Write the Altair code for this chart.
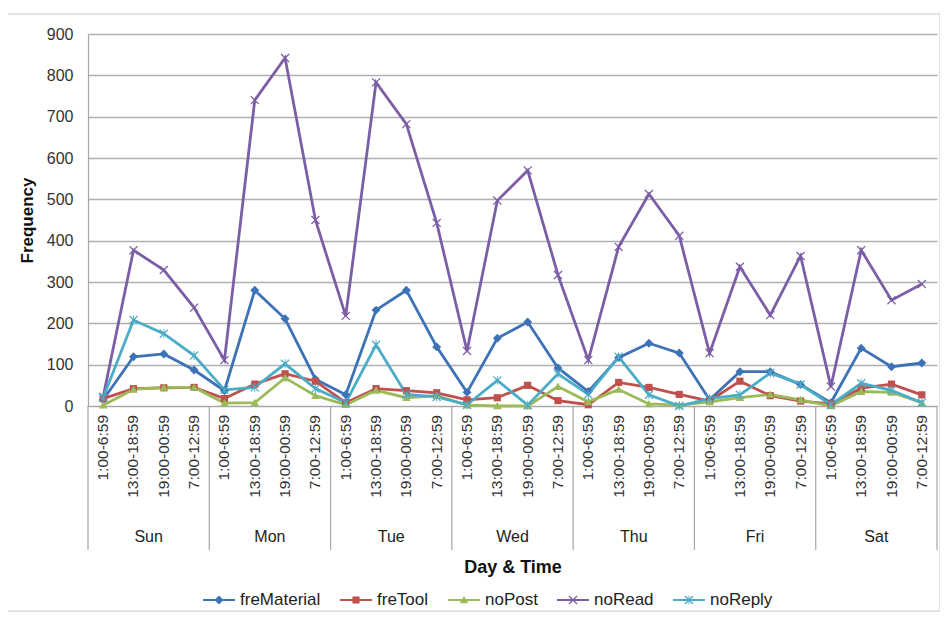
import json
import altair as alt
import pandas as pd

# ---------------- data ----------------
days = ["Sun", "Mon", "Tue", "Wed", "Thu", "Fri", "Sat"]
slots = ["1:00-6:59", "13:00-18:59", "19:00-00:59", "7:00-12:59"]
series = ["freMaterial", "freTool", "noPost", "noRead", "noReply"]

freMaterial = [15, 119, 126, 87, 37, 280, 211, 65, 27, 232, 280, 143, 33, 164, 203, 92,
               35, 117, 152, 128, 15, 83, 83, 52, 8, 140, 95, 104]
freTool = [18, 42, 44, 45, 18, 53, 78, 60, 8, 42, 37, 32, 15, 20, 50, 13,
           3, 57, 45, 28, 12, 60, 25, 12, 5, 43, 53, 27]
noPost = [2, 40, 45, 45, 7, 8, 68, 25, 3, 38, 20, 25, 2, 0, 0, 47,
          10, 40, 5, 2, 10, 20, 28, 15, 0, 35, 33, 8]
noRead = [22, 377, 329, 238, 111, 740, 842, 450, 218, 783, 682, 443, 133, 497, 570, 317,
          111, 385, 513, 412, 128, 337, 220, 363, 47, 377, 256, 295]
noReply = [20, 208, 175, 122, 39, 45, 102, 42, 8, 148, 28, 22, 3, 62, 2, 78,
           28, 119, 27, 0, 18, 27, 80, 52, 3, 55, 38, 8]

y_ticks = [0, 100, 200, 300, 400, 500, 600, 700, 800, 900]
colors = ["#3d72b6", "#c0504d", "#9bbb59", "#7b5ea6", "#4bacc6"]

values_by_series = [freMaterial, freTool, noPost, noRead, noReply]
rows = []
for name, vals in zip(series, values_by_series):
    for i, v in enumerate(vals):
        rows.append({"series": name, "mk": name + "_m", "idx": i,
                     "day": days[i // 4], "slot": slots[i % 4], "value": v})
df = pd.DataFrame(rows)

n_slots = len(days) * len(slots)
slot_df = pd.DataFrame({"idx": list(range(n_slots)),
                        "slot": [slots[i % 4] for i in range(n_slots)]})
day_df = pd.DataFrame({"day": days, "pos": [4 * d + 1.5 for d in range(len(days))]})
sep_df = pd.DataFrame({"pos": [4 * d - 0.5 for d in range(len(days) + 1)]})
frame_df = pd.DataFrame({"frame": [0]})

# ---------------- marker shapes ----------------
def poly(pts, s=1.0):
    return "M" + "L".join(f"{x * s:.3f},{y * s:.3f}" for x, y in pts) + "Z"

diamond = [(0, -1), (1, 0), (0, 1), (-1, 0)]
square = [(-0.8, -0.8), (0.8, -0.8), (0.8, 0.8), (-0.8, 0.8)]
triangle = [(0, -0.9), (0.95, 0.75), (-0.95, 0.75)]
xcross = [(-1, -0.8), (-0.8, -1), (0, -0.2), (0.8, -1), (1, -0.8), (0.2, 0),
          (1, 0.8), (0.8, 1), (0, 0.2), (-0.8, 1), (-1, 0.8), (-0.2, 0)]
vbar = [(-0.1, -1), (0.1, -1), (0.1, 1), (-0.1, 1)]
marker_parts = [[diamond], [square], [triangle], [xcross], [xcross, vbar]]
line_seg = [(-1, -0.07), (1, -0.07), (1, 0.07), (-1, 0.07)]

chart_shapes = ["".join(poly(p) for p in parts) for parts in marker_parts]
legend_shapes = [poly(line_seg) + "".join(poly(p, 0.28) for p in parts) for parts in marker_parts]

dom10 = series + [s + "_m" for s in series]
color_scale = alt.Scale(domain=dom10, range=colors + colors)
shape_scale = alt.Scale(domain=dom10, range=legend_shapes + chart_shapes)

FONT = "Liberation Sans"
W, H = 849, 372

xscale = alt.Scale(domain=[-0.5, 27.5], nice=False, zero=False)
yscale = alt.Scale(domain=[0, 900], nice=False)

x_axis = alt.Axis(values=list(range(28)), labels=False, ticks=False, grid=False,
                  domainColor="#a6a6a6", domainWidth=1.2,
                  title="Day & Time", titleFontSize=18, titleFontWeight="bold",
                  titleColor="#111111", titleY=152)
y_axis = alt.Axis(values=y_ticks, labelFontSize=16, labelColor="#333333",
                  labelPadding=15, ticks=False, tickSize=0,
                  grid=True, gridColor="#b0b0b0", gridWidth=1.5,
                  domainColor="#a6a6a6", domainWidth=1.2,
                  title="Frequency", titleFontSize=17, titleFontWeight="bold",
                  titleColor="#111111", titlePadding=10)

legend = alt.Legend(orient="none", direction="horizontal", legendX=115, legendY=550,
                    title=None, values=series, symbolSize=1024, symbolStrokeWidth=0,
                    labelFontSize=17, labelFont=FONT, labelColor="#222222",
                    labelOffset=5, columnPadding=19, padding=0)

base = alt.Chart(df)

lines = base.mark_line(strokeWidth=2.8).encode(
    x=alt.X("idx:Q", scale=xscale, axis=x_axis),
    y=alt.Y("value:Q", scale=yscale, axis=y_axis),
    color=alt.Color("series:N", scale=color_scale, legend=legend),
    detail="series:N",
)

points = base.mark_point(filled=True, size=80, opacity=1).encode(
    x=alt.X("idx:Q", scale=xscale),
    y=alt.Y("value:Q", scale=yscale),
    color=alt.Color("mk:N", scale=color_scale, legend=legend),
    shape=alt.Shape("mk:N", scale=shape_scale, legend=legend),
)

slot_text = alt.Chart(slot_df).mark_text(fontSize=15.5, font=FONT, color="#333333",
                                          angle=270, align="right", baseline="middle").encode(
    x=alt.X("idx:Q", scale=xscale),
    y=alt.value(H + 9),
    text="slot:N",
)

seps = alt.Chart(sep_df).mark_rule(color="#a6a6a6", strokeWidth=1.2).encode(
    x=alt.X("pos:Q", scale=xscale),
    y=alt.value(H),
    y2=alt.value(H + 144),
)

day_text = alt.Chart(day_df).mark_text(fontSize=16, font=FONT, color="#222222",
                                        baseline="middle").encode(
    x=alt.X("pos:Q", scale=xscale),
    y=alt.value(H + 131),
    text="day:N",
)

frame = alt.Chart(frame_df).mark_rect(fillOpacity=0, stroke="#c8c8c8", strokeWidth=1).encode(
    x=alt.value(-81), x2=alt.value(852), y=alt.value(-20), y2=alt.value(577),
)

chart = alt.layer(lines, points, slot_text, seps, day_text, frame).properties(
    width=W, height=H,
    autosize=alt.AutoSizeParams(type="none"),
    padding={"left": 80, "top": 26, "right": 3, "bottom": 206},
).configure(font=FONT).configure_view(strokeWidth=0)

chart.save("out.html", embed_options={"renderer": "svg", "actions": False})
